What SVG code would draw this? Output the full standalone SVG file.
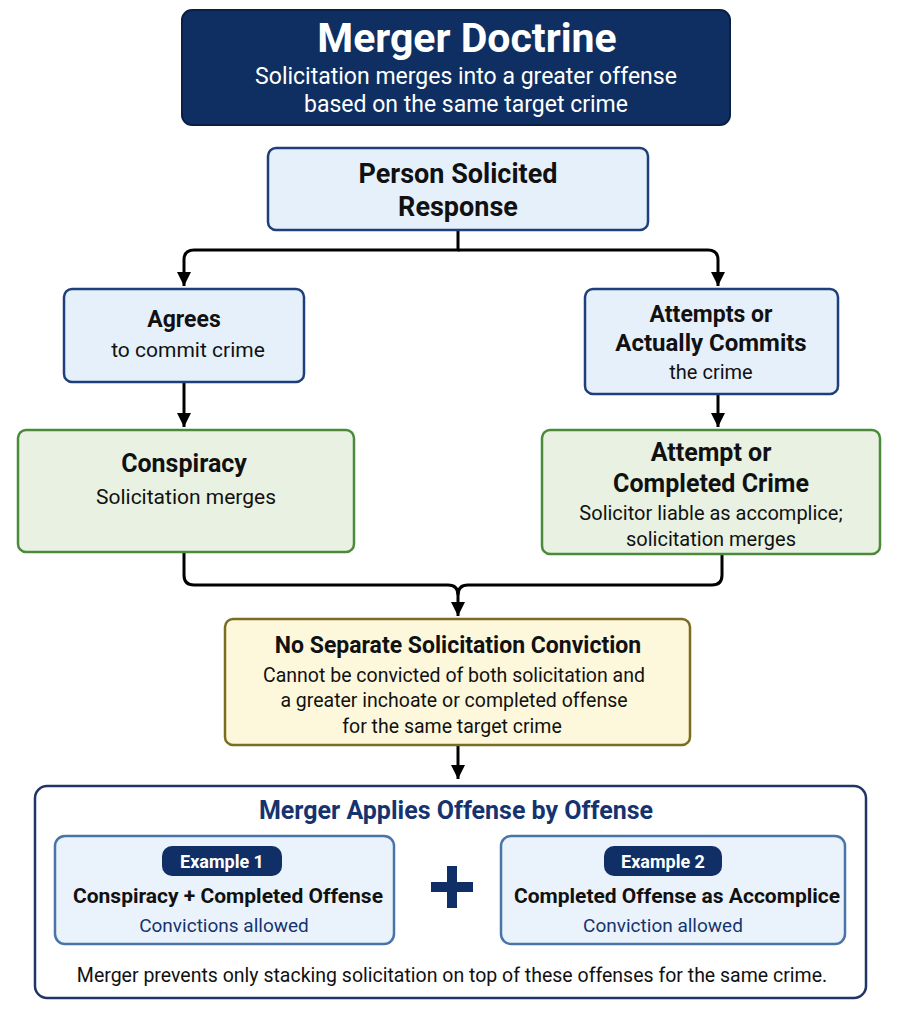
<svg xmlns="http://www.w3.org/2000/svg" width="897" height="1018" viewBox="0 0 897 1018">
<defs>
<marker id="a" viewBox="0 0 10 10" refX="10" refY="5" markerWidth="14" markerHeight="14" markerUnits="userSpaceOnUse" orient="auto"><path d="M0,0 L10,5 L0,10 Z" fill="#000"/></marker>
</defs>
<style>
text{font-family:Roboto,"Liberation Sans",sans-serif;text-anchor:middle;fill:#111}
.b{font-weight:bold}
.blue{fill:#e6f0fb;stroke:#1f3f7a;stroke-width:2.5}
.green{fill:#e9f2e2;stroke:#4a8a3a;stroke-width:2.5}
.ex{fill:#eaf3fc;stroke:#4a73a8;stroke-width:2.5}
.c{fill:none;stroke:#000;stroke-width:3}
.navy{fill:#0f2f66}
</style>
<rect width="897" height="1018" fill="#fff"/>
<g id="title">
<rect x="182" y="10" width="548" height="115" rx="10" fill="#0f2f62" stroke="#0a1f44" stroke-width="2"/>
<text x="467" y="52" class="b" font-size="41" style="fill:#fff">Merger Doctrine</text>
<text x="466" y="84" font-size="23" style="fill:#fff">Solicitation merges into a greater offense</text>
<text x="466" y="112" font-size="23" style="fill:#fff">based on the same target crime</text>
</g>
<g id="connectors">
<path class="c" d="M458,230 V250 H194 Q184,250 184,260 V286" marker-end="url(#a)"/>
<path class="c" d="M458,250 H708 Q718,250 718,260 V286" marker-end="url(#a)"/>
<path class="c" d="M184,382 V427" marker-end="url(#a)"/>
<path class="c" d="M718,394 V427" marker-end="url(#a)"/>
<path class="c" d="M184,552 V575 Q184,585 194,585 H448 Q458,585 458,595 V616" marker-end="url(#a)"/>
<path class="c" d="M722,554 V575 Q722,585 712,585 H468 Q458,585 458,595"/>
<path class="c" d="M458,745 V779" marker-end="url(#a)"/>
</g>
<g id="response">
<rect x="268" y="148" width="380" height="82" rx="8" class="blue"/>
<text x="458" y="183" class="b" font-size="27">Person Solicited</text>
<text x="458" y="216" class="b" font-size="27">Response</text>
</g>
<g id="agrees">
<rect x="64" y="289" width="240" height="93" rx="8" class="blue"/>
<text x="184" y="327" class="b" font-size="23">Agrees</text>
<text x="188" y="357" font-size="21">to commit crime</text>
</g>
<g id="attempts">
<rect x="585" y="289" width="253" height="105" rx="8" class="blue"/>
<text x="711" y="322" class="b" font-size="23">Attempts or</text>
<text x="711" y="351" class="b" font-size="24">Actually Commits</text>
<text x="711" y="379" font-size="20">the crime</text>
</g>
<g id="conspiracy">
<rect x="18" y="430" width="336" height="122" rx="8" class="green"/>
<text x="184" y="472" class="b" font-size="25">Conspiracy</text>
<text x="186" y="504" font-size="21">Solicitation merges</text>
</g>
<g id="completed">
<rect x="542" y="430" width="338" height="124" rx="8" class="green"/>
<text x="711" y="461" class="b" font-size="25">Attempt or</text>
<text x="711" y="492" class="b" font-size="25">Completed Crime</text>
<text x="711" y="520" font-size="20">Solicitor liable as accomplice;</text>
<text x="711" y="546" font-size="20">solicitation merges</text>
</g>
<g id="noseparate">
<rect x="225" y="619" width="465" height="126" rx="8" fill="#fdf8dc" stroke="#7b6d1f" stroke-width="2.5"/>
<text x="458" y="653" class="b" font-size="23">No Separate Solicitation Conviction</text>
<text x="454" y="682" font-size="19.5">Cannot be convicted of both solicitation and</text>
<text x="454" y="707" font-size="19.5">a greater inchoate or completed offense</text>
<text x="452" y="733" font-size="19.5">for the same target crime</text>
</g>
<g id="offense">
<rect x="35" y="786" width="831" height="212" rx="12" fill="#fff" stroke="#1f3566" stroke-width="2.5"/>
<text x="456" y="819" class="b" font-size="25" style="fill:#15336e">Merger Applies Offense by Offense</text>
<text x="452" y="982" font-size="19.5">Merger prevents only stacking solicitation on top of these offenses for the same crime.</text>
<rect x="447" y="866" width="10" height="42" class="navy"/>
<rect x="431" y="882" width="42" height="10" class="navy"/>
</g>
<g id="example1">
<rect x="55" y="836" width="339" height="108" rx="10" class="ex"/>
<rect x="162" y="846" width="120" height="30" rx="10" class="navy"/>
<text x="222" y="868" class="b" font-size="18" style="fill:#fff">Example 1</text>
<text x="228" y="903" class="b" font-size="21">Conspiracy + Completed Offense</text>
<text x="224" y="932" font-size="19" style="fill:#15336e">Convictions allowed</text>
</g>
<g id="example2">
<rect x="501" y="836" width="344" height="108" rx="10" class="ex"/>
<rect x="604" y="846" width="118" height="30" rx="10" class="navy"/>
<text x="663" y="868" class="b" font-size="18" style="fill:#fff">Example 2</text>
<text x="677" y="903" class="b" font-size="21">Completed Offense as Accomplice</text>
<text x="663" y="932" font-size="19" style="fill:#15336e">Conviction allowed</text>
</g>
</svg>
